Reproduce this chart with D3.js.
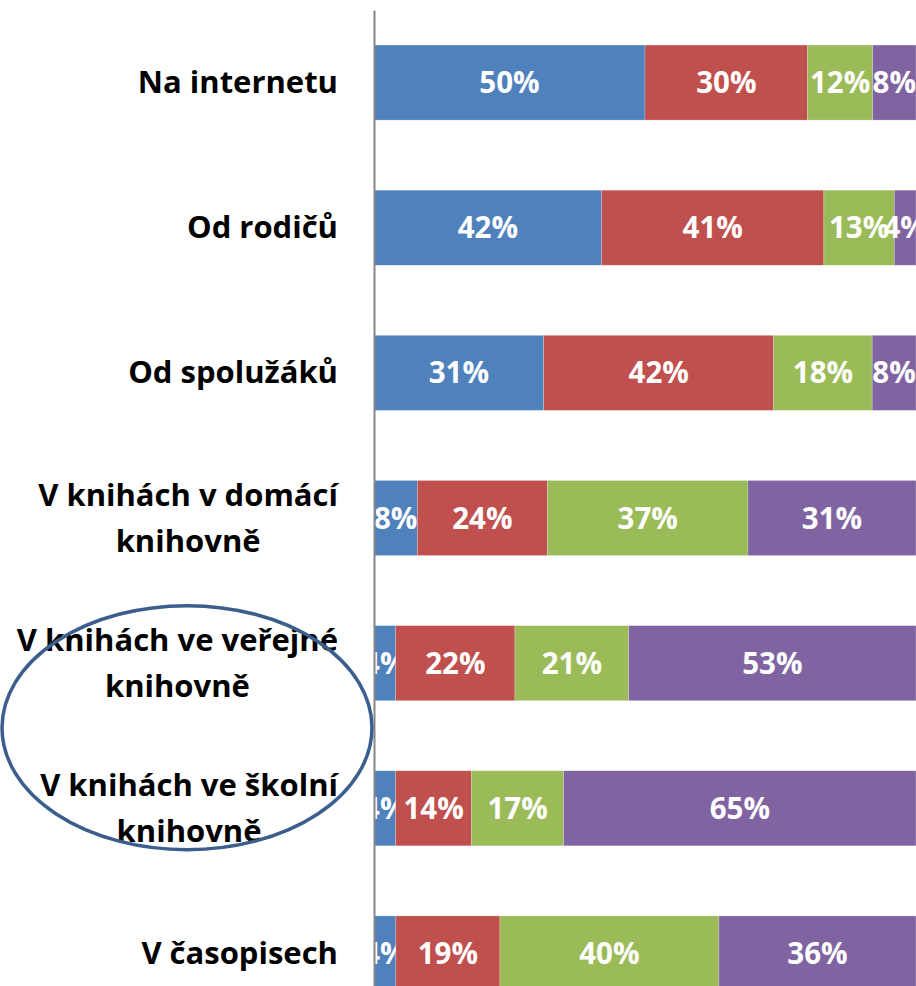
<!DOCTYPE html>
<html>
<head>
<meta charset="utf-8">
<script src="https://cdn.jsdelivr.net/npm/d3@7"></script>
<style>
  html, body { margin: 0; padding: 0; background: #fff; }
  svg { display: block; }
</style>
</head>
<body>
<svg id="chart" width="916" height="986"></svg>
<script>
// Categories (top to bottom); "\n" marks a line break in the label
const categories = [
  "Na internetu",
  "Od rodičů",
  "Od spolužáků",
  "V knihách v domácí\nknihovně",
  "V knihách ve veřejné\nknihovně",
  "V knihách ve školní\nknihovně",
  "V časopisech"
];

// Share of answers per category (percent), one array per series
const series1 = [50, 42, 31, 8, 4, 4, 4];
const series2 = [30, 41, 42, 24, 22, 14, 19];
const series3 = [12, 13, 18, 37, 21, 17, 40];
const series4 = [8, 4, 8, 31, 53, 65, 36];

const seriesKeys = ["s1", "s2", "s3", "s4"];
const seriesColors = ["#4F81BD", "#C0504D", "#9BBB59", "#8064A2"];

const rows = categories.map((c, i) => ({
  category: c,
  s1: series1[i], s2: series2[i], s3: series3[i], s4: series4[i]
}));

const svg = d3.select("#chart");
const FONT = "'Open Sans', 'DejaVu Sans', sans-serif";

const x = d3.scaleLinear().domain([0, 1]).range([374, 916]);
const y = d3.scaleBand()
  .domain(categories)
  .range([10, 1026])
  .paddingInner(0.483)
  .paddingOuter(0.2415);

// 100 % stacked layout
const stacked = d3.stack().keys(seriesKeys).offset(d3.stackOffsetExpand)(rows);

const layers = svg.append("g").selectAll("g")
  .data(stacked)
  .join("g")
  .attr("fill", (d, i) => seriesColors[i]);

layers.selectAll("rect")
  .data(d => d.map(v => ({ v, key: d.key })))
  .join("rect")
  .attr("x", d => x(d.v[0]))
  .attr("width", d => x(d.v[1]) - x(d.v[0]))
  .attr("y", d => y(d.v.data.category))
  .attr("height", y.bandwidth())
  .attr("stroke", "#ffffff")
  .attr("stroke-opacity", 0.35)
  .attr("stroke-width", 0.6);

// Value labels centred in each segment
layers.selectAll("text")
  .data(d => d.map(v => ({ v, key: d.key })))
  .join("text")
  .attr("x", d => (x(d.v[0]) + x(d.v[1])) / 2)
  .attr("y", d => y(d.v.data.category) + y.bandwidth() / 2 + 10.5)
  .attr("text-anchor", "middle")
  .attr("fill", "#ffffff")
  .attr("font-family", FONT)
  .attr("font-weight", 700)
  .attr("font-size", 29.5)
  .text(d => d.v.data[d.key] + "%");

// Category axis line
const axis = svg.append("g")
  .attr("transform", "translate(374,0)")
  .call(d3.axisLeft(y).tickSize(0).tickFormat(""));
axis.select(".domain").attr("stroke", "#868686").attr("stroke-width", 2);

// Category labels: block right-aligned, lines centred on each other
const labelRight = 338;
const lineGap = 46;
const labels = svg.append("g");
categories.forEach(c => {
  const lines = c.split("\n");
  const cy = y(c) + y.bandwidth() / 2;
  const t = labels.append("text")
    .attr("font-family", FONT)
    .attr("font-weight", 700)
    .attr("font-size", 31)
    .attr("fill", "#000")
    .attr("text-anchor", "middle");
  const spans = lines.map((ln, k) => t.append("tspan")
    .attr("y", cy + 10.5 + (k - (lines.length - 1) / 2) * lineGap)
    .text(ln));
  const widest = d3.max(spans, s => s.node().getComputedTextLength());
  spans.forEach(s => s.attr("x", labelRight - widest / 2));
});

// Highlight ellipse around the library categories
const libCats = [categories[4], categories[5]];
const ey = (y(libCats[0]) + y(libCats[1]) + y.bandwidth()) / 2;
svg.append("ellipse")
  .attr("cx", 187)
  .attr("cy", ey - 8)
  .attr("rx", 185)
  .attr("ry", 122)
  .attr("fill", "none")
  .attr("stroke", "#3B5E8C")
  .attr("stroke-width", 3.5);
</script>
</body>
</html>
